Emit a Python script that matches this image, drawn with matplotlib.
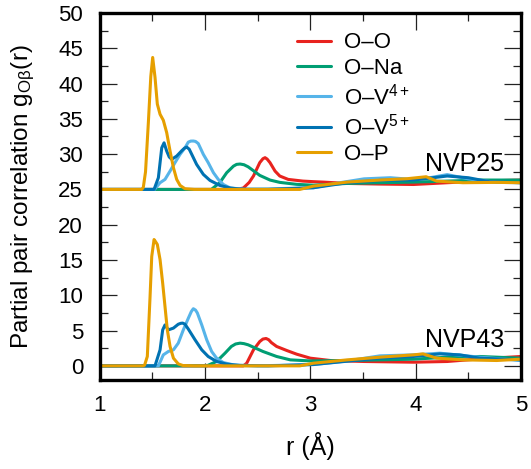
import matplotlib
matplotlib.use("Agg")
import matplotlib.pyplot as plt
from matplotlib.ticker import MultipleLocator

plt.rcParams['font.family'] = ['Liberation Sans', 'DejaVu Sans']
plt.rcParams['mathtext.fontset'] = 'custom'
plt.rcParams['mathtext.rm'] = 'Liberation Sans'
plt.rcParams['mathtext.it'] = 'Liberation Sans:italic'
plt.rcParams['mathtext.bf'] = 'Liberation Sans:bold'

OFFSET_UPPER = 25

# ---------------- NVP25 (upper, offset by 25) ----------------
r_OO_25 = [1.0, 2.30, 2.364, 2.42, 2.46, 2.52, 2.55, 2.57, 2.59, 2.617, 2.665, 2.71, 2.79, 2.93, 3.03, 3.12, 3.35, 3.66, 3.98, 4.3, 4.61, 5.0]
g_OO_25 = [0.0, 0.0, 0.2, 1.0, 1.9, 3.8, 4.35, 4.5, 4.3, 3.8, 2.6, 1.9, 1.42, 1.18, 1.1, 1.04, 0.85, 0.76, 0.7, 0.95, 1.18, 1.33]

r_ONa_25 = [1.0, 2.06, 2.14, 2.206, 2.27, 2.30, 2.333, 2.37, 2.41, 2.52, 2.617, 2.71, 2.87, 3.03, 3.35, 3.66, 3.98, 4.3, 4.61, 5.0]
g_ONa_25 = [0.0, 0.0, 0.95, 2.37, 3.3, 3.55, 3.6, 3.5, 3.2, 1.99, 1.33, 1.0, 0.72, 0.6, 0.85, 0.95, 1.04, 1.18, 1.33, 1.33]

r_OV4_25 = [1.0, 1.52, 1.573, 1.62, 1.668, 1.715, 1.763, 1.81, 1.841, 1.865, 1.889, 1.91, 1.936, 1.984, 2.03, 2.08, 2.126, 2.174, 2.24, 2.4, 3.03, 3.3, 3.51, 3.76, 3.98, 4.15, 4.3, 4.5, 4.77, 5.0]
g_OV4_25 = [0.0, 0.0, 0.95, 1.42, 2.6, 3.8, 4.97, 5.9, 6.7, 6.85, 6.86, 6.8, 6.5, 4.97, 3.8, 2.37, 1.42, 0.7, 0.2, 0.0, 0.24, 1.0, 1.5, 1.66, 1.4, 1.7, 2.1, 1.5, 1.0, 0.95]

r_OV5_25 = [1.0, 1.516, 1.557, 1.589, 1.611, 1.636, 1.66, 1.684, 1.731, 1.78, 1.805, 1.826, 1.85, 1.874, 1.92, 1.984, 2.047, 2.14, 2.24, 2.33, 2.6, 3.03, 3.35, 3.66, 3.98, 4.3, 4.5, 4.7, 5.0]
g_OV5_25 = [0.0, 0.0, 1.66, 5.9, 6.6, 5.44, 4.6, 4.26, 4.73, 5.5, 5.85, 6.0, 5.7, 4.97, 3.55, 2.13, 1.28, 0.57, 0.2, 0.05, 0.0, 0.24, 0.95, 1.28, 1.33, 1.9, 1.66, 1.1, 0.95]

r_OP_25 = [1.0, 1.40, 1.414, 1.435, 1.462, 1.485, 1.503, 1.525, 1.547, 1.573, 1.604, 1.636, 1.668, 1.70, 1.731, 1.763, 1.81, 1.9, 2.9, 3.03, 3.35, 3.66, 3.92, 4.1, 4.2, 4.45, 4.77, 5.0]
g_OP_25 = [0.0, 0.0, 0.3, 2.5, 9.5, 16.0, 18.7, 15.9, 12.1, 10.65, 9.8, 8.05, 5.44, 3.08, 1.42, 0.57, 0.1, 0.0, 0.0, 0.47, 1.04, 1.33, 1.52, 1.8, 1.18, 0.95, 1.0, 0.95]

# ---------------- NVP43 (lower) ----------------
r_OO_43 = [1.0, 2.364, 2.396, 2.46, 2.52, 2.55, 2.58, 2.605, 2.63, 2.68, 2.776, 2.87, 3.0, 3.19, 3.51, 3.98, 4.3, 4.61, 5.0]
g_OO_43 = [0.0, 0.0, 0.38, 2.27, 3.45, 3.8, 3.88, 3.7, 3.3, 2.75, 2.18, 1.66, 1.09, 0.76, 0.62, 0.52, 0.62, 0.99, 1.33]

r_ONa_43 = [1.0, 2.016, 2.11, 2.19, 2.25, 2.29, 2.333, 2.37, 2.41, 2.55, 2.68, 2.81, 3.0, 3.35, 3.66, 3.98, 4.3, 4.61, 5.0]
g_ONa_43 = [0.0, 0.0, 0.62, 1.8, 2.75, 3.1, 3.22, 3.15, 2.98, 2.04, 1.33, 0.85, 0.7, 0.76, 0.85, 0.95, 1.23, 1.33, 1.09]

r_OV4_43 = [1.0, 1.557, 1.604, 1.652, 1.70, 1.746, 1.794, 1.842, 1.87, 1.889, 1.91, 1.927, 1.969, 2.016, 2.063, 2.11, 2.174, 2.27, 2.5, 3.03, 3.35, 3.66, 3.98, 4.23, 4.61, 5.0]
g_OV4_43 = [0.0, 0.0, 1.56, 2.04, 2.27, 3.22, 5.1, 6.77, 7.7, 8.1, 7.9, 7.5, 5.8, 3.7, 2.04, 1.09, 0.47, 0.14, 0.0, 0.19, 0.7, 1.42, 1.56, 1.8, 1.23, 0.76]

r_OV5_43 = [1.0, 1.525, 1.573, 1.598, 1.62, 1.652, 1.70, 1.746, 1.77, 1.788, 1.81, 1.842, 1.905, 1.969, 2.03, 2.11, 2.206, 2.33, 2.6, 3.03, 3.35, 3.66, 3.98, 4.23, 4.42, 4.61, 5.0]
g_OV5_43 = [0.0, 0.0, 2.27, 5.1, 5.8, 5.1, 5.35, 5.9, 6.03, 6.06, 5.9, 5.2, 3.7, 2.27, 1.33, 0.62, 0.25, 0.05, 0.0, 0.19, 0.66, 1.09, 1.33, 1.7, 1.56, 1.09, 0.85]

r_OP_43 = [1.0, 1.41, 1.426, 1.452, 1.478, 1.494, 1.516, 1.53, 1.547, 1.573, 1.598, 1.62, 1.642, 1.668, 1.70, 1.746, 1.79, 1.9, 2.9, 3.03, 3.35, 3.66, 3.98, 4.07, 4.2, 4.45, 4.77, 5.0]
g_OP_43 = [0.0, 0.0, 0.1, 1.33, 9.8, 15.5, 17.9, 17.6, 17.2, 15.06, 11.7, 8.4, 5.1, 2.75, 1.09, 0.28, 0.05, 0.0, 0.0, 0.38, 0.85, 1.23, 1.56, 1.7, 1.09, 0.85, 0.76, 0.95]

series_labels = ['O\u2013O', 'O\u2013Na', 'O\u2013V$^{4+}$', 'O\u2013V$^{5+}$', 'O\u2013P']
colors = ['#E8231E', '#009E73', '#56B4E9', '#0072B2', '#E69F00']

upper = [(r_OO_25, g_OO_25), (r_ONa_25, g_ONa_25), (r_OV4_25, g_OV4_25), (r_OV5_25, g_OV5_25), (r_OP_25, g_OP_25)]
lower = [(r_OO_43, g_OO_43), (r_ONa_43, g_ONa_43), (r_OV4_43, g_OV4_43), (r_OV5_43, g_OV5_43), (r_OP_43, g_OP_43)]

fig = plt.figure(figsize=(5.31, 4.69), dpi=100)
ax = fig.add_axes([0.1878, 0.1898, 0.7932, 0.7825])

lw = 2.2
for (r, g), c, lab in zip(upper, colors, series_labels):
    ax.plot(r, [v + OFFSET_UPPER for v in g], color=c, lw=lw, label=lab,
            solid_joinstyle='round', solid_capstyle='round')
for (r, g), c in zip(lower, colors):
    ax.plot(r, g, color=c, lw=lw, solid_joinstyle='round', solid_capstyle='round')

ax.set_xlim(1, 5)
ax.set_ylim(-2, 50)
ax.xaxis.set_major_locator(MultipleLocator(1))
ax.xaxis.set_minor_locator(MultipleLocator(0.5))
ax.yaxis.set_major_locator(MultipleLocator(5))
ax.yaxis.set_minor_locator(MultipleLocator(2.5))
ax.tick_params(which='both', direction='in', top=True, right=True, labelsize=16, color='#222222')
ax.tick_params(which='major', length=12, width=0.9)
ax.tick_params(which='minor', length=6, width=0.9)
ax.tick_params(axis='y', which='major', pad=12)
ax.tick_params(axis='x', which='major', pad=11)
for s in ax.spines.values():
    s.set_linewidth(2.4)

ax.set_xlabel('r (\u00c5)', fontsize=18, labelpad=11)
ax.set_ylabel(r'Partial pair correlation g$_{\mathrm{O\beta}}$(r)', fontsize=17.5, labelpad=15)

ax.text(4.84, 26.9, 'NVP25', fontsize=18, ha='right', va='bottom')
ax.text(4.84, 1.9, 'NVP43', fontsize=18, ha='right', va='bottom')

leg = ax.legend(loc='upper left', bbox_to_anchor=(0.469, 0.947), frameon=False, fontsize=16,
                handlelength=1.5, handletextpad=0.6, labelspacing=0.2, borderaxespad=0, borderpad=0)

fig.savefig('out.png', dpi=100)
